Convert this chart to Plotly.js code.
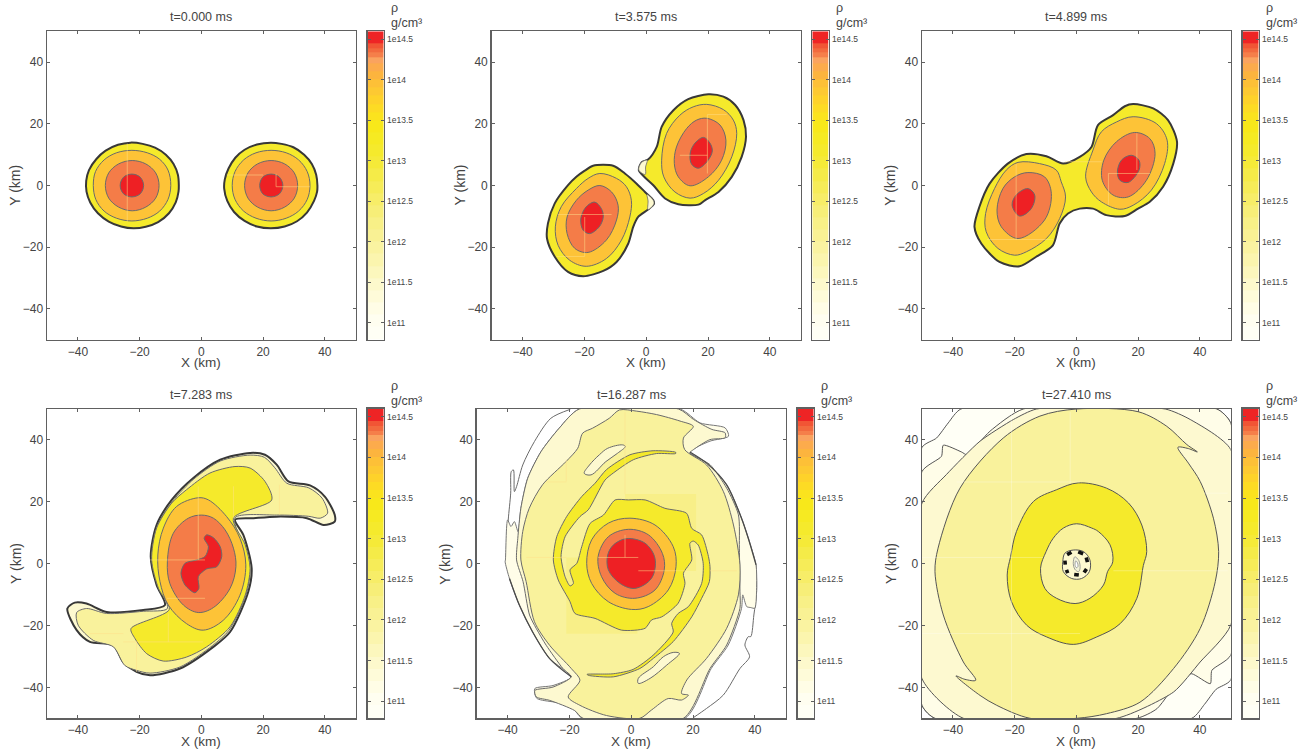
<!DOCTYPE html>
<html><head><meta charset="utf-8">
<script src="https://cdn.plot.ly/plotly-3.0.1.min.js"></script>
<style>html,body{margin:0;padding:0;background:#fff}#c{width:1304px;height:749px}</style>
</head><body><div id="c"></div>
<script>
// ---------- colour-bar values ----------
const barEdges=[10.79,10.95,11.1,11.25,11.4,11.55,11.7,11.85,12,12.15,12.3,12.45,12.6,12.75,12.9,13.05,13.2,13.35,13.5,13.6,13.7,13.8,13.9,14,14.1,14.2,14.27,14.33,14.39,14.45,14.595];
const barColors=['#fffff5','#fffef0','#fffde6','#fefbd9','#fdf9cc','#fcf7bd','#fbf5ae','#faf3a1','#f9f194','#f8f087','#f7ee78','#f7ed68','#f6ec58','#f5eb48','#f5ea38','#f5ea2c','#f6ea22','#f8e81a','#fbe31e','#fddb24','#fed22a','#fdc932','#fdc037','#fcb43e','#fcab4c','#faa35f','#f57f4a','#f26a3e','#f15535','#ee2425'];
const barTicks=[11,11.5,12,12.5,13,13.5,14,14.5];
const barTickText=['1e11','1e11.5','1e12','1e12.5','1e13','1e13.5','1e14','1e14.5'];
const panelTitles=['t=0.000 ms','t=3.575 ms','t=4.899 ms','t=7.283 ms','t=16.287 ms','t=27.410 ms'];
const RED='#ee2024',ORANGE='#f47c48',AMBER='#fdc337',YELLOW='#f5ea2b',PALE='#f9f29c',L1='#fdf9d0',L2='#fffde8',L3='#fffff6';

// ---------- panel 1 ----------
const p1LOuter=[[-7.3,0],[-7.6,3.5],[-9,7],[-11.5,10],[-15,12.3],[-19,13.5],[-23,13.9],[-27,13.2],[-31,11.3],[-34,8.6],[-36.4,5],[-37.3,1.5],[-37.2,-2],[-36,-5.5],[-33.5,-9],[-30,-11.7],[-26,-13.3],[-22,-13.9],[-18,-13.4],[-14,-11.9],[-10.5,-9],[-8.3,-5.5],[-7.4,-2]];
const p1LAmber=[[-9.9,0],[-10.8,5],[-13.5,8.5],[-17.5,10.6],[-22.5,11.4],[-27.5,10.6],[-31.5,8.3],[-34.3,4.5],[-35,0],[-34.2,-4.5],[-31.5,-8.3],[-27.5,-10.6],[-22.5,-11.5],[-17.5,-10.6],[-13.5,-8.3],[-10.8,-4.5]];
const p1LOrange=[[-13.7,0],[-14.8,4.1],[-18,7],[-22.4,8.1],[-26.8,7],[-30,4.1],[-31.1,0],[-30,-4.1],[-26.8,-7],[-22.4,-8.2],[-18,-7],[-14.8,-4.1]];
const p1LRed=[[-18.7,0],[-19.8,2.7],[-22.5,3.7],[-25.2,2.7],[-26.3,0],[-25.2,-2.7],[-22.5,-3.7],[-19.8,-2.7]];
const p1ROuter=[[37.6,0],[37.2,3.5],[35.8,7],[33.3,10],[29.8,12.4],[26,13.5],[22.5,13.9],[18,13.3],[14,11.6],[11,9],[8.8,5.5],[7.6,2],[7.4,-1],[8.4,-5],[10.6,-8.6],[14,-11.5],[18,-13.3],[22.5,-13.9],[27,-13.3],[31,-11.6],[34.2,-8.8],[36.5,-5],[37.5,-2]];
const p1RAmber=[[35.2,0],[34.3,4.5],[31.5,8.3],[27.5,10.6],[22.6,11.4],[17.7,10.6],[13.7,8.3],[10.9,4.5],[10,0],[10.9,-4.5],[13.7,-8.3],[17.7,-10.6],[22.6,-11.5],[27.5,-10.6],[31.5,-8.3],[34.3,-4.5]];
const p1ROrange=[[31.2,0],[30.1,4.1],[27,7],[22.6,8.1],[18.2,7],[15.1,4.1],[14,0],[15.1,-4.1],[18.2,-7],[22.6,-8.2],[27,-7],[30.1,-4.1]];
const p1RRed=[[26.4,0],[25.3,2.7],[22.6,3.7],[19.9,2.7],[18.9,0],[19.9,-2.7],[22.6,-3.7],[25.3,-2.7]];
const p1Seams=[[[-24,13.6],[-24,-11.8]],[[8.2,3.4],[20,3.4]],[[24.2,-0.4],[35.2,-0.4]],[[24.2,3.8],[24.2,-0.4]]];

// ---------- panel 2 ----------
const p2LOuter=[[-17.2,6.4],[-10.7,6.4],[-6.9,3.9],[-3.1,0.6],[-0.4,-2.1],[2.3,-4.8],[2.5,-6],[0.6,-7.8],[-2.6,-10.2],[-4.2,-13.4],[-5.8,-18.8],[-9.6,-24.8],[-13.9,-27.7],[-20.4,-29.4],[-25.3,-28],[-29.6,-23.1],[-32.1,-17.2],[-31.8,-12.3],[-29.6,-5.8],[-25.3,0.1],[-22.6,2.8],[-19.9,4.8]];
const p2LAmber=[[-15,3.9],[-9.6,2.3],[-6.4,-0.4],[-4.8,-4.8],[-5.3,-10.2],[-8,-17.7],[-12.9,-23.7],[-19.4,-26.2],[-24.8,-24.2],[-28.5,-19.4],[-29.4,-13.4],[-27.5,-6.9],[-22.6,-1],[-18.8,2.3]];
const p2LOrange=[[-15,0],[-11.2,-2.1],[-9.1,-6.4],[-9.6,-11.2],[-12.9,-17.7],[-18.8,-21.7],[-23.1,-20.4],[-25.6,-15.6],[-25.6,-10.2],[-22.6,-4.8],[-18.8,-1.5]];
const p2LRed=[[-16.6,-5.4],[-14.5,-7.5],[-13.9,-10.2],[-15.2,-13.4],[-18.3,-15.6],[-20.4,-14.5],[-21.2,-11.2],[-20.2,-8],[-18.5,-6.1]];
const p2ROuter=[[20.1,29.6],[25,28.8],[28.8,26.1],[31.5,21.2],[32.3,15.8],[30.9,9.3],[27.7,2.8],[23.4,-2.1],[19,-4.8],[16.9,-6.2],[10.4,-6.1],[6.1,-4.2],[2.3,0.1],[-0.8,3],[-2.4,5],[-1.5,7.5],[0.6,8.4],[3.4,12.5],[5,19],[8.8,24.4],[13.6,28]];
const p2RAmber=[[19.6,26.3],[25,24.6],[28.2,21.2],[29.3,16.9],[27.7,9.3],[23.4,1.7],[18.5,-2.6],[14.2,-4.1],[9.3,-2.1],[5.7,2.8],[5,8.2],[6.6,16.9],[10.9,22.8],[15.2,25.5]];
const p2ROrange=[[19.6,21.8],[23.9,19.6],[25.8,14.7],[24.4,8.2],[20.1,2.8],[14.2,-0.1],[10.4,2.8],[9.1,7.1],[9.8,12.5],[13.1,18.5],[16.3,21.2]];
const p2RRed=[[18.5,15.6],[20.6,13.8],[21.4,11.2],[19.9,8],[16.9,5.6],[14.7,6.9],[14.2,10.2],[15.5,13.4]];
const p2TipA=[[-2.4,5],[-1.5,7.5],[0.3,8.2],[-0.2,6],[-0.3,3.6]];
const p2TipB=[[2.5,-6],[2.3,-4.8],[0.3,-2.9],[0.6,-5],[0.6,-7.8]];
const p2Seams=[[[-19.9,-10.2],[-19.9,-23]],[[-28.5,-9.4],[-11.2,-9.4]],[[-29,-23],[-19.9,-23]],[[19.8,23],[19.8,3.9]],[[10.9,9.8],[19.8,9.8]],[[19.8,23],[26,23]]];

// ---------- panel 3 ----------
const p3Outer=[[18.4,26.4],[24.9,25],[29.7,21.2],[32.6,14.2],[31.4,7.1],[28.1,-0.4],[23.8,-5.3],[20,-7.5],[15.7,-9.9],[9.7,-9.6],[5.4,-7.5],[1.1,-7.5],[-2.7,-9.1],[-5.4,-12.3],[-7.6,-19.4],[-13,-23.1],[-18.4,-26.2],[-24.9,-24.8],[-30.8,-18.8],[-33,-13.4],[-31.4,-6.9],[-28.1,0.6],[-22.2,7.1],[-16.2,10.2],[-9.7,9.5],[-4.3,7.1],[1.1,9.3],[4.9,12.5],[7,19.6],[11.9,22.8],[15.7,25.7]];
const p3RAmber=[[18.4,22.3],[25.9,20.1],[29.4,14.7],[28.6,7.1],[24.3,-1.5],[18.4,-6.4],[14.1,-7.7],[8.1,-5.3],[4.9,-2.1],[3,2.8],[5.4,11.5],[8.1,17.4],[13,20.6]];
const p3ROrange=[[18.9,17.2],[23.8,15.2],[25.5,10.4],[22.7,1.7],[16.8,-3.7],[11.9,-3.1],[8.4,1.7],[8.9,8.2],[13,14.2]];
const p3RRed=[[17.8,9.8],[20.3,8.2],[20.3,5],[16.8,1],[14.1,1.7],[13.3,4.4],[14.6,8.2]];
const p3LAmber=[[-18.9,7.5],[-11.9,7.1],[-6.5,5],[-4.9,1.2],[-3.5,-3.7],[-5.4,-10.7],[-9.7,-17.2],[-16.2,-21.5],[-20,-22.6],[-25.4,-20.4],[-29.2,-15],[-29.4,-9.1],[-26.5,-1],[-22.7,5]];
const p3LOrange=[[-15.7,4.2],[-10.3,2.8],[-8.1,-2.6],[-10.3,-11.2],[-18.9,-17.2],[-24.3,-13.4],[-25.7,-8],[-23.8,-1],[-20,2.8]];
const p3LRed=[[-15.7,-1],[-13.5,-3.1],[-14.6,-7.5],[-18.4,-9.9],[-20.8,-6.4],[-19.5,-3.1]];
const p3Seams=[[[-19.5,7],[-19.5,-17.7]],[[-29,-17.5],[-7.5,-17.5]],[[19.6,16.9],[19.6,5]],[[10.4,3.9],[23.9,3.9]],[[10.4,3.9],[10.4,-6.4]],[[-3.7,7.7],[8.2,7.7]]];

// ---------- panel 4 ----------
const p4Outer=[[15.8,35.8],[20.6,35.2],[24.4,32],[28.2,26.6],[35.2,25.3],[40,21.7],[43.2,15.8],[43.2,13.6],[39.6,12.5],[34.2,14.7],[24.4,15.2],[16.9,14.7],[10.9,14.2],[13.6,9.3],[16.3,-1.5],[15.2,-9.1],[9.3,-22.1],[3.9,-26.9],[-6.9,-33.9],[-16.6,-36.1],[-21,-35],[-25.3,-31.8],[-28.5,-26.4],[-36.1,-25.3],[-40.4,-21.5],[-43.4,-14.5],[-41,-12.6],[-37.2,-12.9],[-30.7,-15.6],[-18.8,-15],[-11.8,-13.4],[-14.5,-6.9],[-16.4,2.3],[-14.5,12.5],[-9.6,20.6],[-2.6,27.7],[6.1,33.6]];
const p4Pale=[[15.8,35.1],[20.4,34.4],[23.8,31],[27.7,26],[34.8,24.5],[39.1,21.2],[40.9,16.3],[38.5,14.7],[34.8,15.3],[24.4,15.7],[10.9,14.8],[14,5],[15.8,-2],[14.5,-10],[9,-21.5],[3.6,-26.5],[-6.9,-33.4],[-16.6,-35.4],[-21,-34.5],[-24.8,-32.9],[-28.5,-26.9],[-35,-24.8],[-39.9,-19.9],[-40.4,-15.8],[-37.2,-14.5],[-30.7,-16.1],[-18.8,-15.4],[-11,-14.5],[-14,-7],[-16,2],[-14.2,12.3],[-9.3,20.2],[-2.4,27.4],[6.2,33.2]];
const p4Yellow=[[10.9,31.4],[15.8,30.9],[20.6,26.6],[22.8,20.6],[10.4,14.7],[14.2,6.1],[15.8,-1.5],[14.2,-10.2],[9.3,-20.4],[1.7,-26.9],[-4.8,-30.2],[-12.3,-31.5],[-17.7,-29.1],[-21.5,-24.2],[-22.8,-21],[-10.4,-14.8],[-13.9,-8],[-16.1,1.2],[-14.5,11.5],[-9.6,19.6],[-4.8,23.9],[2.8,29.3]];
const p4Amber=[[-1,21.3],[2.3,20.6],[8.2,15.2],[12.5,8.2],[14.4,-0.4],[12.5,-10.2],[7.1,-18.3],[0.6,-21.5],[-4.8,-19.4],[-10.7,-13.4],[-13.4,-5.8],[-14.1,2.8],[-12.3,11.5],[-8,18.5]];
const p4Orange=[[0.1,15.7],[3.9,14.7],[7.7,10.9],[10.4,5],[11.2,-1],[9.3,-8],[3.9,-14.2],[-1,-15.8],[-5.8,-13.4],[-10.2,-6.4],[-11,0.6],[-9.1,9.8],[-4.2,14.7]];
const p4Red=[[1.7,9.3],[3.9,8.4],[6.1,5.5],[6.6,2.3],[5,-1],[1.7,-1.7],[-1,-4.2],[-0.8,-8],[-2.1,-9.4],[-5.3,-6.9],[-6.6,-3.1],[-5.3,0.1],[-1.5,1.2],[1.2,2.3],[2.3,5.5],[0.9,8.2]];
const p4Seams=[[[-1,25],[-1,1.2]],[[-16.6,1.2],[1.2,1.2]],[[-11.2,-11.2],[1.2,-11.2]],[[-10.7,-16.1],[-10.7,-25.3]],[[-25.3,-25.3],[0.6,-25.3]],[[10.4,25],[10.4,14.7]],[[25.3,25.5],[25.3,15.8]],[[-36.1,-22.6],[-25.3,-22.6]],[[-21,-25.3],[-21,-35]]];

// ---------- panel 5 ----------
const p5ThinA=[[-19.7,49.9],[-26,47],[-31.3,39.5],[-35.1,31.9],[-37.1,24.9],[-37.8,23.3],[-38.1,30.3],[-38.8,29.8],[-39,22.8],[-39.8,14.1],[-40.5,1.7]];
const p5ThinB=[[40.4,-0.4],[40.6,-9],[39.7,-16.6],[38.7,-23.6],[37.9,-23.6],[36.8,-26.3],[38.3,-30.1],[35.2,-33.9],[29.8,-42.5],[24.4,-46.8],[20.1,-49.8]];
const p5DarkA=[[19,36.1],[24.4,32.5],[30.9,25.5],[35.7,14.7],[37.9,8.2],[40.4,-0.4]];
const p5DarkB=[[-39.4,-4.8],[-36.2,-13.4],[-31.9,-22.1],[-26.4,-30.7],[-19.4,-36.6]];
const p5Lightest=[[-16.8,50],[-23.3,43.8],[-29.2,36.2],[-33.5,27.6],[-35.7,17.9],[-36.6,10.3],[-37.8,13.6],[-38.9,12],[-40,14.1],[-40.7,1.2],[-40.8,0.6],[-39.4,-4.8],[-36.2,-13.4],[-31.9,-22.1],[-26.4,-30.7],[-19.4,-36.6],[-25.3,-39.4],[-31.2,-40.4],[-30.6,-43.5],[-19.6,-45.8],[-15.8,-50],[17.4,-50],[25.9,-33.9],[31.4,-26.3],[35.7,-14.5],[36.1,-10.1],[37.4,-13.9],[38.7,-14.2],[40,-14.4],[40.6,-6.9],[40.4,-0.4],[37.9,8.2],[35.7,14.7],[30.9,25.5],[24.4,32.5],[19,36.1],[25.5,39.6],[31.5,41.2],[30.4,43.9],[22.3,45.5],[15.8,50]];
const p5Light=[[15.3,50],[20.2,46.6],[26.1,43.4],[30.4,42.3],[30.4,40.7],[25.5,40.1],[20.2,36.9],[19,35.8],[25.5,32],[30.9,24.4],[34.7,15.8],[35,5],[35.2,-9.1],[35.2,-14.4],[30.9,-26.3],[25.5,-33.9],[16.9,-50],[-15.6,-50],[-18.3,-47.5],[-26.4,-44.2],[-30.7,-43.1],[-31.2,-41],[-25.3,-39.9],[-19.4,-36.6],[-22.1,-33.9],[-27.5,-26.4],[-30.7,-21],[-32.9,-16.6],[-35,-5.8],[-37.1,1.2],[-36.7,8.2],[-35.7,17.9],[-33.5,27.6],[-29.2,36.2],[-23.3,43.8],[-16.8,50]];
const p5Pale=[[-3.8,49.7],[1.8,49.3],[8.2,48.2],[15.8,46.1],[20.1,44.4],[16.9,40.6],[17.3,36.9],[24.4,31.9],[29.8,23.4],[33.1,12.5],[35.2,-0.4],[34.7,-10.1],[30.9,-20.9],[24.4,-30.6],[18,-37.6],[16.3,-42],[18.5,-42.5],[16.3,-44.1],[12,-43.6],[6.6,-47.3],[2.8,-50],[-8,-49.1],[-16.6,-45.8],[-20.4,-43.1],[-16.6,-37.7],[-19.4,-33.9],[-26.4,-26.4],[-31.3,-18.8],[-34,-5.8],[-35.7,1.2],[-35.1,10.4],[-33,17.9],[-28.7,25.5],[-21.1,33],[-17.3,37.3],[-15.7,42.2],[-12.5,43.8],[-7.1,47]];
const p5PatchA=[[-21,-22.7],[2,-22.7],[2,2],[-21,2]];
const p5PatchB=[[-2,-2.4],[21,-2.4],[21,22.5],[-2,22.5]];
const p5IslandA=[[-2.8,38.4],[-7.6,37.3],[-10.3,35.2],[-13.5,31.9],[-15.2,29.2],[-13,28.7],[-8.2,33],[-4.4,35.7],[-1.9,37.9]];
const p5IslandB=[[13.6,-28.7],[10.4,-30.1],[7.2,-33.3],[2.3,-37.1],[2.3,-38.7],[6.1,-37.1],[11.5,-32.8],[15.6,-29]];
const p5Yellow=[[-5.2,20.6],[-0.9,20.6],[4.5,20.6],[10.9,17.9],[17.9,16.3],[19.6,11.4],[22.8,9.3],[25,2.3],[25.5,-1],[25.3,-5.8],[22.8,-11.2],[19.6,-17.2],[13.6,-25.2],[7.2,-30.6],[2.8,-33.9],[-5.8,-36.6],[-13.9,-36.1],[-14.3,-35.8],[-5.8,-35.6],[0.6,-34.2],[7.1,-29.6],[13.6,-22.1],[13.1,-19.3],[15.2,-16.1],[18.5,-13.9],[22.8,-6.4],[23.3,0.1],[21.7,6],[20.1,7.3],[19,6.6],[19.6,1.2],[16.9,-3.1],[17.4,-6.4],[15.2,-12.8],[9.9,-17.2],[6.6,-18.2],[4.5,-20.9],[-3.1,-21.5],[-11.7,-17.7],[-18.2,-16.1],[-19.8,-12.3],[-23.6,-5.3],[-25.2,1.2],[-24.1,8.7],[-20.9,15.2],[-16,21.7],[-11.7,26],[-8,30.4],[-0.4,35.2],[7.1,36.5],[14.4,36],[14.4,35.6],[8.2,35.6],[0.7,33.6],[-5.8,29.3],[-8.5,27],[-13.9,17.4],[-16.6,15.2],[-21.4,8.7],[-22.7,2.3],[-21.4,-4.2],[-19.8,-7.2],[-18.7,-6.4],[-19.8,-2],[-17.6,0.1],[-16,5.5],[-13.3,13],[-9,15.7]];
const p5Amber=[[-0.4,14.7],[7.7,12.5],[13.6,5.5],[14.5,-1],[12,-8.5],[5.5,-13.9],[0.1,-14.8],[-7.4,-12.3],[-12.8,-6.4],[-14.4,0.1],[-12.8,7.7],[-7.4,13.1]];
const p5Orange=[[-0.9,11.1],[5.6,9.3],[10.1,3.3],[10.7,-2],[7.7,-8.5],[1.2,-11.2],[-5.2,-9.6],[-9.6,-4.2],[-10.7,2.3],[-7.4,8.7]];
const p5Red=[[-1.5,8.1],[4.5,6.6],[7.7,1.7],[6.6,-4.7],[1.2,-8],[-3.6,-6.4],[-7.4,-2],[-7.6,2.8],[-5.8,6]];
const p5Seams=[[[-2,9.3],[-2,2]],[[-10.7,2],[2.3,2]],[[2.3,-2.3],[17.4,-2.3]],[[-33.9,2],[-21,2]],[[25.5,-2.3],[34.2,-2.3]],[[-21,33.6],[-21,26.6]],[[-27.5,26.4],[-21,26.4]],[[-2,49],[-2,22.5]]];

// ---------- panel 6 ----------
const p6Lightest=[[-37.4,50],[45.5,50],[50,45.5],[50,-37.6],[45.3,-40.6],[41.5,-45.5],[37.4,-50],[-45.8,-50],[-50,-45.8],[-50,37.6],[-45.3,40.6],[-41.5,45.5]];
const p6Band=[[-50,29.8],[-43.7,34.7],[-43.1,38.3],[-37.2,36.1],[-35.4,35.2],[-28,42.8],[-17.2,50],[45.5,50],[50,45.5],[50,-29.6],[43.9,-34.5],[43.4,-38.8],[37.4,-35.6],[34.2,-36.6],[26.1,-46.9],[19.6,-50],[-45.8,-50],[-50,-45.8]];
const p6Light=[[-50,19.6],[-42.1,28.8],[-31.2,39.6],[-20.4,46.6],[-12.9,50],[28.8,50],[36.9,46.6],[50,36.9],[50,-19.9],[40.1,-31.8],[31.5,-41.5],[13.1,-50],[-36.6,-50],[-50,-37.2]];
const p6Pale=[[0.1,50],[20.1,49.1],[29.3,44.4],[35.8,38.5],[39.2,36.1],[36.3,37.2],[32.9,37.6],[36.3,32.5],[40.1,26.6],[44.4,14.7],[46.1,3.9],[45,-5.8],[40.1,-21],[31.5,-33.9],[20.6,-44.8],[9.8,-48.5],[0.1,-50],[-15,-50],[-25.8,-45.8],[-31.2,-42.6],[-39,-36.3],[-36.1,-37.4],[-32.6,-37.7],[-36.6,-31.8],[-43.1,-16.6],[-45.8,-2.6],[-44.8,5],[-37.7,24.4],[-23.7,40.6],[-11.8,47.7]];
const p6Yellow=[[0.6,26.1],[9.8,24.4],[16.9,19.6],[21.2,12.5],[22.8,3.9],[21.7,-0.6],[19.6,-11.2],[14.2,-19.4],[6.6,-23.7],[-1,-26.1],[-9.6,-23.7],[-16.1,-19.9],[-21,-12.3],[-22.4,-3.7],[-21.3,2.3],[-19.4,10.4],[-13.9,20.1],[-6.4,23.9]];
const p6Hole=[[0.1,12.9],[5,11.5],[7.1,10.4],[10.9,6.1],[11.8,0.6],[10.1,-2.6],[8.8,-6.9],[4.4,-11.2],[-0.4,-12.9],[-6.4,-11.2],[-10.2,-8],[-11.6,-1.5],[-9.8,3.9],[-7.5,8.2],[-4.2,11.5]];
const p6Core=[[-3.7,3.4],[-1,4.4],[2.3,3.9],[4.4,1.2],[4.2,-2.6],[1.7,-4.8],[-1.5,-4.8],[-4.2,-2.6],[-4.4,0.6]];
const p6InnerA=[[-0.5,2.2],[0.8,1],[1.2,-1.5],[0.7,-2.6],[-0.5,-1.8],[-1,0]];
const p6InnerB=[[-0.2,0.9],[0.4,0.2],[0.5,-1],[0,-1.3],[-0.4,-0.6]];
const p6Blobs=[[[-3,2.9],[-1.6,3.7]],[[0.6,3.8],[2.2,3.2]],[[3.2,2],[3.6,0.5]],[[3.3,-1.7],[2.5,-2.9]],[[-0.7,-3.5],[0.8,-3.7]],[[-3.2,-2],[-2.8,-3.1]],[[-3.7,1],[-3.6,-0.3]]];
const p6Seams=[[[-50,2],[-10.7,2]],[[-38.8,26.4],[1.2,26.4]],[[-50,-22.6],[1.2,-22.6]],[[-2,49],[-2,26]],[[12,-2.3],[49,-2.3]],[[41.2,22.8],[49,22.8]],[[-21,49],[-21,-49]]];

// ---------- page geometry (pixels) ----------
const W=1304,H=749;
const colX=[[47,355.7],[491.7,800.7],[922,1230.7],[47,355.7],[476.7,785.7],[922,1230.7]];
const barX=[[367.7,383.7],[812.3,828.7],[1242.7,1258.7],[367.7,383.7],[797.7,813.7],[1242.7,1258.7]];
const rowY=[[31.3,339.7],[31.3,339.7],[31.3,339.7],[409,718.3],[409,718.3],[409,718.3]];

const FONT='"Liberation Sans",Arial,sans-serif',TXT='#444',FRAME='#606060';
const traces=[],layout={width:W,height:H,margin:{l:0,r:0,t:0,b:0},paper_bgcolor:'#fff',plot_bgcolor:'#fff',showlegend:false,annotations:[],font:{family:FONT,color:TXT}};

function poly(i,pts,fill,lc,lw,shape,sm){
  const xs=pts.map(p=>p[0]),ys=pts.map(p=>p[1]);
  xs.push(xs[0]);ys.push(ys[0]);
  const t={type:'scatter',mode:'lines',x:xs,y:ys,xaxis:'x'+(i+1),yaxis:'y'+(i+1),hoverinfo:'skip',
    line:{color:lc||'rgba(0,0,0,0)',width:lw===undefined?1:lw,shape:shape||'spline',smoothing:sm===undefined?1:sm}};
  if(fill){t.fill='toself';t.fillcolor=fill;}
  traces.push(t);
}
function open(i,pts,lc,lw){
  traces.push({type:'scatter',mode:'lines',x:pts.map(p=>p[0]),y:pts.map(p=>p[1]),xaxis:'x'+(i+1),yaxis:'y'+(i+1),hoverinfo:'skip',
    line:{color:lc,width:lw,shape:'spline',smoothing:0.8}});
}
function segs(i,list,lc,lw){
  const xs=[],ys=[];
  list.forEach(s=>{s.forEach(p=>{xs.push(p[0]);ys.push(p[1]);});xs.push(null);ys.push(null);});
  traces.push({type:'scatter',mode:'lines',x:xs,y:ys,xaxis:'x'+(i+1),yaxis:'y'+(i+1),hoverinfo:'skip',line:{color:lc,width:lw}});
}
const DARK='#383838',MID='#6a6a6a',SEAM='rgba(255,225,140,0.5)';

// panel 1
[[p1LOuter,p1LAmber,p1LOrange,p1LRed],[p1ROuter,p1RAmber,p1ROrange,p1RRed]].forEach(s=>{
  poly(0,s[0],YELLOW,DARK,2);poly(0,s[1],AMBER,MID,1);poly(0,s[2],ORANGE,MID,1);poly(0,s[3],RED,MID,1);
});
segs(0,p1Seams,SEAM,1);
// panel 2
[[p2LOuter,p2LAmber,p2LOrange,p2LRed],[p2ROuter,p2RAmber,p2ROrange,p2RRed]].forEach(s=>{
  poly(1,s[0],YELLOW,DARK,2,'spline',0.8);poly(1,s[1],AMBER,MID,1);poly(1,s[2],ORANGE,MID,1);poly(1,s[3],RED,MID,1);
});
poly(1,p2TipA,L1,MID,0.8);poly(1,p2TipB,L1,MID,0.8);
segs(1,p2Seams,SEAM,1);
// panel 3
poly(2,p3Outer,YELLOW,DARK,2,'spline',0.8);
[[p3RAmber,p3ROrange,p3RRed],[p3LAmber,p3LOrange,p3LRed]].forEach(s=>{
  poly(2,s[0],AMBER,MID,1);poly(2,s[1],ORANGE,MID,1);poly(2,s[2],RED,MID,1);
});
segs(2,p3Seams,SEAM,1);
// panel 4
poly(3,p4Outer,L1,DARK,2,'spline',0.8);poly(3,p4Pale,PALE,MID,1,'spline',0.8);poly(3,p4Yellow,YELLOW,MID,1,'spline',0.8);
poly(3,p4Amber,AMBER,MID,1);poly(3,p4Orange,ORANGE,MID,1);poly(3,p4Red,RED,MID,1,'spline',0.8);
segs(3,p4Seams,SEAM,1);
// panel 5
open(4,p5ThinA,MID,1);open(4,p5ThinB,MID,1);
poly(4,p5Lightest,L2,'#777',1,'spline',0.7);poly(4,p5Light,L1,MID,1,'spline',0.7);poly(4,p5Pale,PALE,MID,1,'spline',0.8);
open(4,p5DarkA,'#4a4a4a',1.3);open(4,p5DarkB,'#4a4a4a',1.3);
poly(4,p5PatchA,'#f8ef88',null,0,'linear');poly(4,p5PatchB,'#f8ef88',null,0,'linear');
poly(4,p5IslandA,L1,MID,1);poly(4,p5IslandB,L1,MID,1);
poly(4,p5Yellow,YELLOW,MID,1,'spline',0.7);poly(4,p5Amber,AMBER,MID,1);poly(4,p5Orange,ORANGE,MID,1);poly(4,p5Red,RED,MID,1);
segs(4,p5Seams,SEAM,1);
// panel 6
poly(5,p6Lightest,L3,'#555',1,'spline',0.6);poly(5,p6Band,L2,'#555',1,'spline',0.6);poly(5,p6Light,L1,'#555',1,'spline',0.6);poly(5,p6Pale,PALE,'#555',1,'spline',0.9);
poly(5,p6Yellow,YELLOW,'#555',1);poly(5,p6Hole,PALE,'#555',1);poly(5,p6Core,L1,'#555',1);
segs(5,p6Blobs,'#111',3.6);
poly(5,p6InnerA,'#f4f4d8','#888',0.8);poly(5,p6InnerB,'#fff','#888',0.8);
segs(5,p6Seams,'rgba(255,255,255,0.28)',1);

// axes + colour bars
const scale=barColors.map((c,k)=>[k/(barColors.length-1),c]);
const TICKS=[-40,-20,0,20,40];
panelTitles.forEach((title,i)=>{
  const n=i+1,bn=i+7,dx=[colX[i][0]/W,colX[i][1]/W],dy=[1-rowY[i][1]/H,1-rowY[i][0]/H];
  const axis=(anch)=>({range:[-50,50],anchor:anch,tickmode:'array',tickvals:TICKS,ticks:'inside',ticklen:3,tickcolor:FRAME,tickwidth:1,
    showline:true,linecolor:FRAME,linewidth:1.5,mirror:'ticks',showgrid:false,zeroline:false,tickfont:{size:12,color:TXT,family:FONT},automargin:false,fixedrange:true});
  layout['xaxis'+n]=Object.assign(axis('y'+n),{domain:dx});
  layout['yaxis'+n]=Object.assign(axis('x'+n),{domain:dy});
  const bdx=[barX[i][0]/W,barX[i][1]/W];
  layout['xaxis'+bn]={domain:bdx,range:[0,1],anchor:'y'+bn,showticklabels:false,ticks:'',showline:true,linecolor:FRAME,linewidth:1.6,mirror:true,showgrid:false,zeroline:false,fixedrange:true};
  layout['yaxis'+bn]={domain:dy,range:[barEdges[0],barEdges[barEdges.length-1]],anchor:'x'+bn,side:'right',tickmode:'array',tickvals:barTicks,ticktext:barTickText,ticks:'inside',ticklen:3,tickcolor:FRAME,tickwidth:1,
    showline:true,linecolor:FRAME,linewidth:1.6,mirror:'ticks',showgrid:false,zeroline:false,tickfont:{size:8.5,color:TXT,family:FONT},fixedrange:true};
  traces.push({type:'heatmap',x:[0,1],y:barEdges,z:barColors.map((c,k)=>[k]),zmin:0,zmax:barColors.length-1,colorscale:scale,showscale:false,hoverinfo:'skip',xaxis:'x'+bn,yaxis:'y'+bn});
  const rowTop=rowY[i][0],rowBot=rowY[i][1],cx=(colX[i][0]+colX[i][1])/2,cy=(rowTop+rowBot)/2;
  const note=(text,x,y,anchor,size,angle)=>layout.annotations.push({text:text,xref:'paper',yref:'paper',x:x/W,y:1-y/H,xanchor:anchor,yanchor:'middle',showarrow:false,textangle:angle||0,font:{size:size,color:TXT,family:FONT}});
  note(title,cx,rowTop-14.3,'center',12.5);
  note('X (km)',cx,rowBot+23.2,'center',13.5);
  note('Y (km)',colX[i][0]-31.7,cy,'center',14,-90);
  note('ρ',barX[i][1]+5.5,rowTop-23,'left',12.5);
  note('g/cm³',barX[i][1]+5.5,rowTop-8,'left',12.5);
});
Plotly.newPlot('c',traces,layout,{staticPlot:true,displayModeBar:false});
</script></body></html>
